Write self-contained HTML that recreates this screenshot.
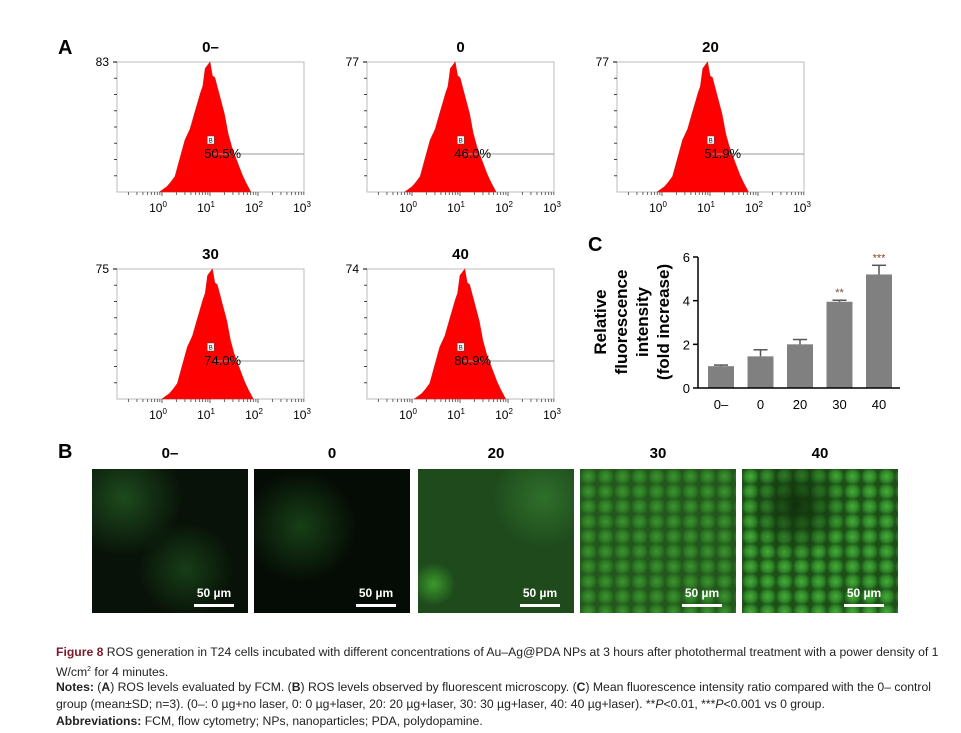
<!DOCTYPE html>
<html><head><meta charset="utf-8"><style>
body{margin:0;background:#fff;width:961px;height:733px;overflow:hidden;position:relative;font-family:"Liberation Sans",sans-serif}
.cap{position:absolute;left:56px;width:894px;font-family:"Liberation Sans Narrow","Liberation Sans",sans-serif;font-size:12.2px;color:#222;line-height:17px}
.img{position:absolute;top:469px;width:156px;height:144px;overflow:hidden}
.sb{position:absolute;right:14px;bottom:6px;color:#fff;font:bold 12px "Liberation Sans",sans-serif;text-align:center}
.sb i{display:block;height:3px;background:#fff;margin-top:4px;width:40px}
.bt{position:absolute;top:445px;font:bold 15px "Liberation Sans",sans-serif;width:156px;text-align:center}
</style></head><body>
<svg id="fig" width="961" height="440" style="position:absolute;left:0;top:0" font-family="Liberation Sans, sans-serif"></svg>

<div class="bt" style="left:92px">0–</div>
<div class="bt" style="left:254px">0</div>
<div class="bt" style="left:418px">20</div>
<div class="bt" style="left:580px">30</div>
<div class="bt" style="left:742px">40</div>
<div style="position:absolute;left:58px;top:441px;font:bold 20px 'Liberation Sans',sans-serif">B</div>

<div class="img" style="left:92px;background:radial-gradient(circle at 20% 20%,#1d4a1d 0,transparent 35%),radial-gradient(circle at 60% 70%,#173d17 0,transparent 35%),#081208"><div class="sb">50 µm<i></i></div></div>
<div class="img" style="left:254px;background:radial-gradient(circle at 30% 40%,#173f17 0,transparent 40%),#050c05"><div class="sb">50 µm<i></i></div></div>
<div class="img" style="left:418px;background:radial-gradient(circle at 10% 80%,#3a9a2a 0,transparent 12%),radial-gradient(circle at 80% 20%,#2f6f2a 0,transparent 30%),#1e4a1c"><div class="sb">50 µm<i></i></div></div>
<div class="img" style="left:580px;background:radial-gradient(circle at 40% 60%,transparent 0,transparent 50%),radial-gradient(circle,#3c9430 0,#2e7a24 45%,#22561c 80%) 0 0/17px 15px,#2a7020"><div class="sb">50 µm<i></i></div></div>
<div class="img" style="left:742px;background:radial-gradient(ellipse at 35% 25%,#10300c 0,transparent 35%),radial-gradient(circle,#46ac36 0,#30882a 45%,#1c4e16 80%) 0 0/17px 15px,#2e8a22"><div class="sb">50 µm<i></i></div></div>

<div class="cap" style="top:644px"><b style="color:#7a1a2a">Figure 8</b> ROS generation in T24 cells incubated with different concentrations of Au–Ag@PDA NPs at 3 hours after photothermal treatment with a power density of 1 W/cm<sup style="font-size:7px">2</sup> for 4 minutes.</div>
<div class="cap" style="top:679px"><b>Notes:</b> (<b>A</b>) ROS levels evaluated by FCM. (<b>B</b>) ROS levels observed by fluorescent microscopy. (<b>C</b>) Mean fluorescence intensity ratio compared with the 0– control group (mean±SD; n=3). (0–: 0 µg+no laser, 0: 0 µg+laser, 20: 20 µg+laser, 30: 30 µg+laser, 40: 40 µg+laser). **<i>P</i>&lt;0.01, ***<i>P</i>&lt;0.001 vs 0 group.</div>
<div class="cap" style="top:713px"><b>Abbreviations:</b> FCM, flow cytometry; NPs, nanoparticles; PDA, polydopamine.</div>

<script>
const histTitles=["0–","0","20","30","40"];
const histMax=["83","77","77","75","74"];
const histPct=["50.5%","46.0%","51.9%","74.0%","80.9%"];
const histShift=[0,-0.1,-0.05,0.05,0.1];
const shapeU=[-0.05,0.1,0.27,0.48,0.69,0.8,0.9,1.0,1.1,1.3,1.45,1.6,1.75,1.85];
const shapeH=[0,0.04,0.12,0.4,0.62,0.76,0.95,1.0,0.88,0.6,0.35,0.2,0.07,0];
const cats=["0–","0","20","30","40"];
const vals=[1.0,1.45,2.0,3.95,5.2];
const errs=[0.05,0.3,0.22,0.07,0.42];
const stars=["","","","**","***"];
const yTicks=[0,2,4,6];

const S=document.getElementById('fig'),NS="http://www.w3.org/2000/svg";
function mk(t,a,txt){const e=document.createElementNS(NS,t);for(const k in a)e.setAttribute(k,a[k]);if(txt!=null)e.textContent=txt;S.appendChild(e);return e;}
let e=mk('text',{x:58,y:54,'font-size':20,'font-weight':'bold'},'A');


const pos=[[0,0],[250,0],[500,0],[0,207],[250,207]];
histTitles.forEach((t,i)=>{
  const ox=pos[i][0],oy=pos[i][1],L=117+ox,R=304+ox,T=62+oy,B=192+oy;
  const xs=u=>L+45+u*48;
  let g=mk('text',{x:(L+R)/2,y:T-10,'font-size':15,'font-weight':'bold','text-anchor':'middle'},t);
  
  g=mk('rect',{x:L,y:T,width:R-L,height:B-T,fill:'none',stroke:'#bbb'});
  
  let d='M'+xs(shapeU[0]+histShift[i])+','+B;
  shapeU.forEach((u,k)=>{d+=' L'+xs(u+histShift[i]).toFixed(1)+','+(B-shapeH[k]*(B-T)).toFixed(1);
    if(k>0&&k<shapeU.length-1){const um=(u+shapeU[k+1])/2+histShift[i];d+=' L'+xs(um).toFixed(1)+','+(B-((shapeH[k]+shapeH[k+1])/2*(1-0.05*(k%2)))*(B-T)).toFixed(1);}});
  d+='Z';
  g=mk('path',{d:d,fill:'#ff0000',stroke:'#c22',"stroke-width":0.6});
  
  g=mk('line',{x1:L-4,y1:T,x2:L,y2:T,stroke:'#000'});
  g=mk('text',{x:L-8,y:T+4,'font-size':12,'text-anchor':'end'},histMax[i]);
  
  for(let k=1;k<8;k++)mk('line',{x1:L-3,y1:T+k*(B-T)/8,x2:L,y2:T+k*(B-T)/8,stroke:'#444'});
  for(let dd=-1;dd<3;dd++)for(let m=1;m<10;m++){const x=xs(dd+Math.log10(m));if(x>L&&x<=R)mk('line',{x1:x,y1:B,x2:x,y2:B+(m==1?4:3),stroke:'#666'});}
  for(let dd=0;dd<4;dd++){g=mk('text',{x:xs(dd)-4,y:B+20,'font-size':12,'text-anchor':'middle'});g.innerHTML='10<tspan dy="-5" font-size="8">'+dd+'</tspan>';
    }
  const gy=B-38;
  mk('line',{x1:xs(1.05),y1:gy,x2:R,y2:gy,stroke:'#999'});
  mk('rect',{x:xs(0.9)+2,y:gy-18,width:7,height:8,fill:'#fff',stroke:'#444','stroke-width':0.5});
  mk('text',{x:xs(0.9)+3.5,y:gy-11.5,'font-size':6},'B');
  g=mk('text',{x:xs(0.88),y:gy+4,'font-size':13},histPct[i]);
  
});

const X0=698,Y0=388,Y6=257,y=v=>Y0-(Y0-Y6)*v/6,bx=i=>721+i*39.5;
e=mk('text',{x:588,y:251,'font-size':20,'font-weight':'bold'},'C');

const yl=mk('text',{transform:'translate(612,322) rotate(-90)','font-size':17,'font-weight':'bold','text-anchor':'middle'});
yl.innerHTML='<tspan x="0" dy="-6">Relative</tspan><tspan x="0" dy="21">fluorescence</tspan><tspan x="0" dy="21">intensity</tspan><tspan x="0" dy="21">(fold increase)</tspan>';

vals.forEach((v,i)=>{
  let r=mk('rect',{x:bx(i)-13,y:y(v),width:26,height:Y0-y(v),fill:'#808080'});
  
  mk('line',{x1:bx(i),y1:y(v),x2:bx(i),y2:y(v+errs[i]),stroke:'#555','stroke-width':1.5});
  let eb=mk('line',{x1:bx(i)-7,y1:y(v+errs[i]),x2:bx(i)+7,y2:y(v+errs[i]),stroke:'#555','stroke-width':1.5});
  
  if(stars[i]){let s=mk('text',{x:bx(i),y:y(v+errs[i])-4,'font-size':11,fill:'#7a4a3a','text-anchor':'middle'},stars[i]);
    }
  let t=mk('text',{x:bx(i),y:Y0+21,'font-size':13,'text-anchor':'middle'},cats[i]);
  
});
mk('line',{x1:X0,y1:Y6,x2:X0,y2:Y0,stroke:'#000','stroke-width':1.5});
mk('line',{x1:X0,y1:Y0,x2:900,y2:Y0,stroke:'#000','stroke-width':1.5});
yTicks.forEach(v=>{mk('line',{x1:X0-5,y1:y(v),x2:X0,y2:y(v),stroke:'#000','stroke-width':1.5});
  let t=mk('text',{x:X0-8,y:y(v)+5,'font-size':13,'text-anchor':'end'},v);
  });
</script>
</body></html>
